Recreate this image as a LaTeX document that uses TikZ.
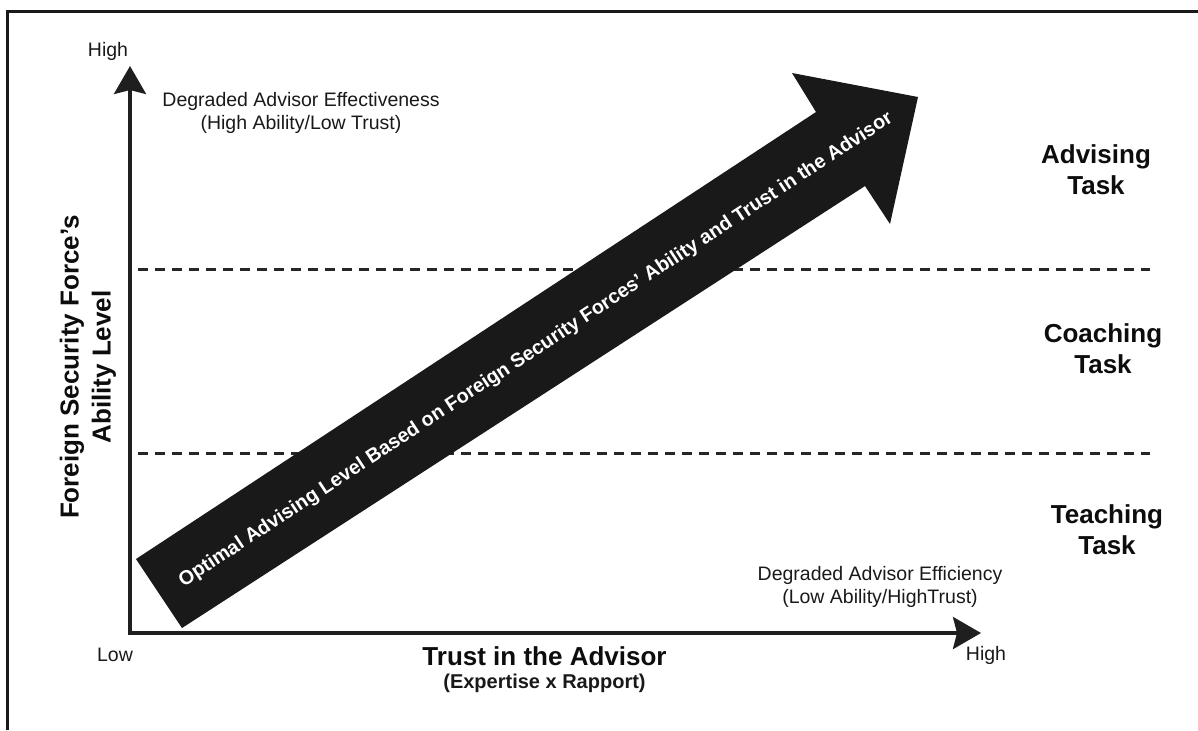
\documentclass[tikz,border=0pt]{standalone}
\usepackage{fontspec}
\setmainfont{Liberation Sans}
\usetikzlibrary{arrows.meta}
\begin{document}
\begin{tikzpicture}[x=0.5pt,y=-0.5pt,
  frameline/.style={line width=1.5pt, black!90},
  axisline/.style={line width=1.75pt, black!88, line join=miter,
    {Stealth[length=14pt,width=16pt,inset=2pt]}-{Stealth[length=14pt,width=16pt,inset=2pt]}},
  bandline/.style={line width=1.5pt, black!85, dash pattern=on 5pt off 3.5pt},
  bigarrow/.style={fill=black!90, draw=none},
  plain/.style={font=\fontsize{9.75}{11.75}\selectfont, text=black!90, inner sep=0pt, align=center},
  heading/.style={font=\bfseries\fontsize{13}{15.5}\selectfont, text=black!95, inner sep=0pt, align=center},
  subheading/.style={font=\bfseries\fontsize{10}{12}\selectfont, text=black!90, inner sep=0pt, align=center},
  bandtext/.style={font=\bfseries\fontsize{9.9}{12}\selectfont, text=white, inner sep=0pt},
]
\useasboundingbox (0,0) rectangle (1198,730);

% outer frame (top and left edges)
\draw[frameline] (7,730) -- (7,11) -- (1198,11);

% axes
\coordinate (org) at (130,633);
\coordinate (ytip) at (130,66);
\coordinate (xtip) at (981,633);

% band boundaries
\coordinate (b1l) at (138,269);
\coordinate (b1r) at (1150,269);
\coordinate (b2l) at (138,453);
\coordinate (b2r) at (1150,453);
\draw[bandline] (b1l) -- (b1r);
\draw[bandline] (b2l) -- (b2r);

\draw[axisline] (ytip) -- (org) -- (xtip);

% diagonal arrow
\coordinate (t1) at (136,559);
\coordinate (t2) at (182,628);
\coordinate (n1) at (865,186);
\coordinate (h1) at (890,224);
\coordinate (tip) at (918,97);
\coordinate (h2) at (792,73);
\coordinate (n2) at (816,112);
\fill[bigarrow] (t1) -- (t2) -- (n1) -- (h1) -- (tip) -- (h2) -- (n2) -- cycle;
\node[bandtext, rotate=33.3] (bandlabel) at (536,350)
  {Optimal Advising Level Based on Foreign Security Forces’ Ability and Trust in the Advisor};

% axis end labels
\node[plain] (yhigh) at (108,51) {High};
\node[plain] (xlow) at (115,655) {Low};
\node[plain] (xhigh) at (986,655) {High};

% corner notes
\node[plain] (effect) at (301,113) {Degraded Advisor Effectiveness\\(High Ability/Low Trust)};
\node[plain] (effic) at (880,587) {Degraded Advisor Efficiency\\(Low Ability/HighTrust)};

% axis titles
\node[heading] (xtitle) at (544.5,656) {Trust in the Advisor};
\node[subheading] (xsub) at (544.5,683) {(Expertise x Rapport)};
\node[heading, rotate=90, font=\bfseries\fontsize{13}{16}\selectfont] (ytitle) at (88,367)
  {Foreign Security Force’s\\Ability Level};

% task bands
\node[heading] (advising) at (1096,170) {Advising\\Task};
\node[heading] (coaching) at (1103,349) {Coaching\\Task};
\node[heading] (teaching) at (1107,530) {Teaching\\Task};
\end{tikzpicture}
\end{document}
